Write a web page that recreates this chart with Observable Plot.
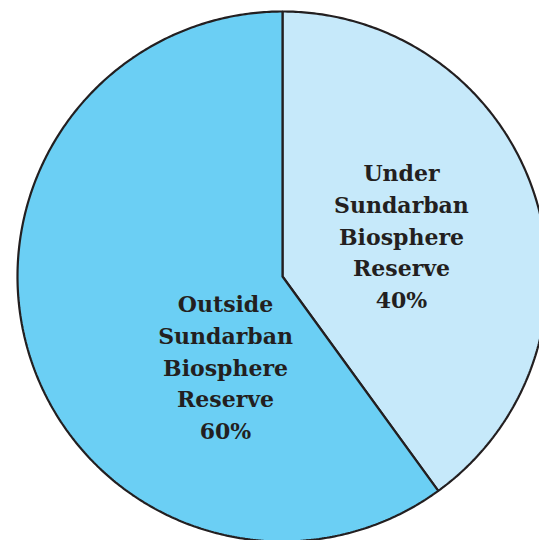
<!DOCTYPE html>
<html>
<head>
<meta charset="utf-8">
<script src="https://cdn.jsdelivr.net/npm/d3@7"></script>
<script src="https://cdn.jsdelivr.net/npm/@observablehq/plot@0.6"></script>
<style>
  html, body { margin: 0; padding: 0; background: #fff; }
  #chart svg { display: block; }
</style>
</head>
<body>
<div id="chart"></div>
<script>
// Data
const categories = ["Under\nSundarban\nBiosphere\nReserve", "Outside\nSundarban\nBiosphere\nReserve"];
const shares = [40, 60];
const colors = ["#c6e9fa", "#6bcff4"];
// label anchor positions in pie-radius units (relative to centre)
const labelX = [0.449, -0.215];
const labelY = [0.158, -0.336];

const pie = d3.pie().sort(null).value(d => d)(shares);

// Build slice outlines in unit-radius coordinates from pie angles
const slicePoints = [];
pie.forEach((p, i) => {
  const name = categories[i];
  slicePoints.push({name, x: 0, y: 0});
  const steps = Math.max(2, Math.ceil((p.endAngle - p.startAngle) / 0.01));
  for (let k = 0; k <= steps; k++) {
    const a = p.startAngle + (p.endAngle - p.startAngle) * k / steps;
    slicePoints.push({name, x: Math.sin(a), y: Math.cos(a)});
  }
  slicePoints.push({name, x: 0, y: 0});
});

const labels = categories.map((c, i) => ({
  text: c + "\n" + shares[i] + "%",
  x: labelX[i],
  y: labelY[i]
}));

const W = 539, H = 540, cx = 282, cy = 276, R = 265;

const chart = Plot.plot({
  width: W,
  height: H,
  margin: 0,
  x: {domain: [-cx / R, (W - cx) / R], axis: null},
  y: {domain: [-(H - cy) / R, cy / R], axis: null},
  color: {domain: categories, range: colors},
  marks: [
    Plot.line(slicePoints, {
      x: "x", y: "y", z: "name",
      fill: "name",
      stroke: "#231f20",
      strokeWidth: 2.2,
      strokeLinejoin: "miter",
      curve: "linear"
    }),
    Plot.text(labels, {
      x: "x", y: "y", text: "text",
      fontFamily: "DejaVu Serif",
      fontWeight: "bold",
      fontSize: 22,
      lineHeight: 1.44,
      lineAnchor: "middle",
      textAnchor: "middle",
      fill: "#231f20"
    })
  ]
});

document.getElementById("chart").appendChild(chart);
</script>
</body>
</html>
